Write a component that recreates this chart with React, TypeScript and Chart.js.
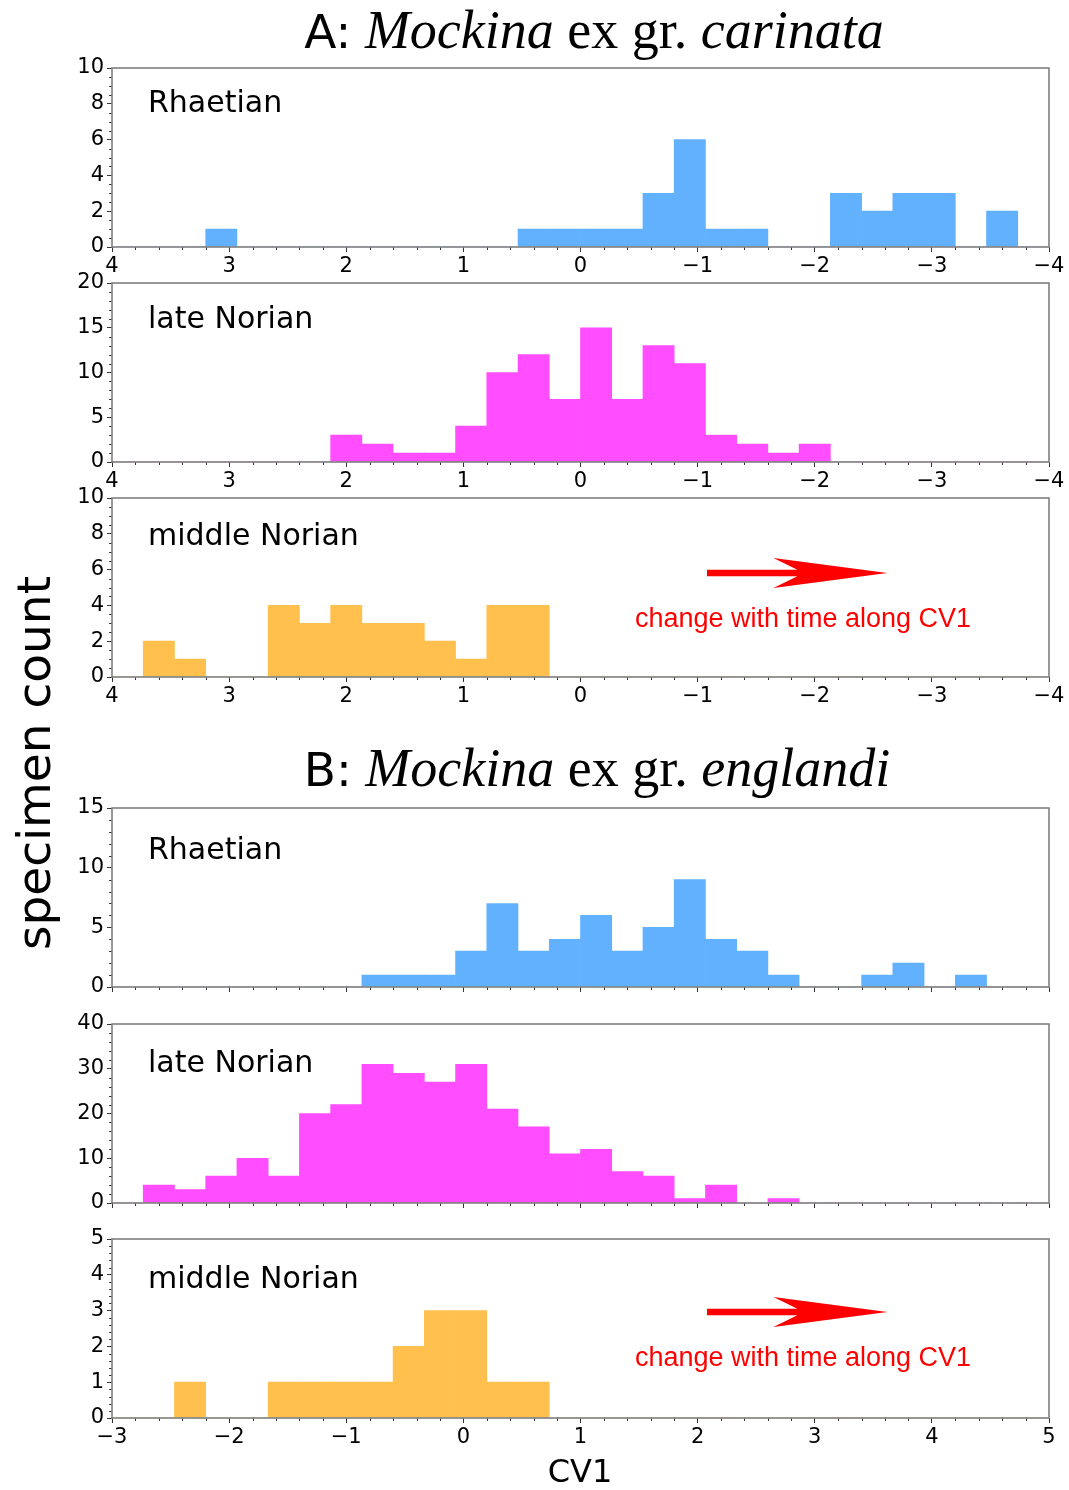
import React, { useEffect, useRef } from "react";
import { Chart, registerables } from "chart.js";

Chart.register(...registerables);

// Histogram layout: 30 equal bins spanning each CV1 range
const BIN_COUNT = 30;
const RANGE_CARINATA = [-4, 4];
const RANGE_ENGLANDI = [-3, 5];

// Specimen counts per bin, ordered from the lowest CV1 bin to the highest
const carinataRhaetian = [0, 2, 0, 3, 3, 2, 3, 0, 0, 1, 1, 6, 3, 1, 1, 1, 1, 0, 0, 0, 0, 0, 0, 0, 0, 0, 1, 0, 0, 0];
const carinataLateNorian = [0, 0, 0, 0, 0, 0, 0, 2, 1, 2, 3, 11, 13, 7, 15, 7, 12, 10, 4, 1, 1, 2, 3, 0, 0, 0, 0, 0, 0, 0];
const carinataMiddleNorian = [0, 0, 0, 0, 0, 0, 0, 0, 0, 0, 0, 0, 0, 0, 0, 0, 4, 4, 1, 2, 3, 3, 4, 3, 4, 0, 0, 1, 2, 0];

const englandiRhaetian = [0, 0, 0, 0, 0, 0, 0, 0, 1, 1, 1, 3, 7, 3, 4, 6, 3, 5, 9, 4, 3, 1, 0, 0, 1, 2, 0, 1, 0, 0];
const englandiLateNorian = [0, 4, 3, 6, 10, 6, 20, 22, 31, 29, 27, 31, 21, 17, 11, 12, 7, 6, 1, 4, 0, 1, 0, 0, 0, 0, 0, 0, 0, 0];
const englandiMiddleNorian = [0, 0, 1, 0, 0, 1, 1, 1, 1, 2, 3, 3, 1, 1, 0, 0, 0, 0, 0, 0, 0, 0, 0, 0, 0, 0, 0, 0, 0, 0];

// Axis limits and major tick steps of the count axes
const yMaxima = [10, 20, 10, 15, 40, 5];
const yMajorSteps = [2, 5, 2, 5, 10, 1];
const yMinorSteps = [0.5, 1, 0.5, 1, 2, 0.2];
const stageLabels = ["Rhaetian", "late Norian", "middle Norian", "Rhaetian", "late Norian", "middle Norian"];

// Direction-of-change annotation (CV1 / count coordinates)
const ARROW_TEXT = "change with time along CV1";
const carinataArrow = { tail: -1.08, tip: -2.62, y: 5.81, textX: -1.9, textY: 2.79 };
const englandiArrow = { tail: 2.08, tip: 3.62, y: 2.96, textX: 2.9, textY: 1.46 };

const BLUE = "#62b1ff";
const MAGENTA = "#ff4dff";
const ORANGE = "#ffc04d";

const W = 1069;
const PAD_TOP = 20;
const PLOT_H = 179;
const X_AXIS_H = 40;
const Y_AXIS_W = 112;
const PAD_RIGHT = 20;
const TICK_FONT = { family: "'DejaVu Sans', sans-serif", size: 21 };

type PanelCfg = {
  top: number;
  counts: number[];
  range: number[];
  reversed: boolean;
  yMax: number;
  yStep: number;
  yMinor: number;
  label: string;
  labelBaseline: number;
  color: string;
  showX: boolean;
  arrow?: { tail: number; tip: number; y: number; textX: number; textY: number };
};

const panels: PanelCfg[] = [
  { top: 68, counts: carinataRhaetian, range: RANGE_CARINATA, reversed: true, yMax: yMaxima[0], yStep: yMajorSteps[0], yMinor: yMinorSteps[0], label: stageLabels[0], labelBaseline: 44, color: BLUE, showX: true },
  { top: 283, counts: carinataLateNorian, range: RANGE_CARINATA, reversed: true, yMax: yMaxima[1], yStep: yMajorSteps[1], yMinor: yMinorSteps[1], label: stageLabels[1], labelBaseline: 45, color: MAGENTA, showX: true },
  { top: 498, counts: carinataMiddleNorian, range: RANGE_CARINATA, reversed: true, yMax: yMaxima[2], yStep: yMajorSteps[2], yMinor: yMinorSteps[2], label: stageLabels[2], labelBaseline: 47, color: ORANGE, showX: true, arrow: carinataArrow },
  { top: 808, counts: englandiRhaetian, range: RANGE_ENGLANDI, reversed: false, yMax: yMaxima[3], yStep: yMajorSteps[3], yMinor: yMinorSteps[3], label: stageLabels[3], labelBaseline: 51, color: BLUE, showX: false },
  { top: 1024, counts: englandiLateNorian, range: RANGE_ENGLANDI, reversed: false, yMax: yMaxima[4], yStep: yMajorSteps[4], yMinor: yMinorSteps[4], label: stageLabels[4], labelBaseline: 48, color: MAGENTA, showX: false },
  { top: 1239, counts: englandiMiddleNorian, range: RANGE_ENGLANDI, reversed: false, yMax: yMaxima[5], yStep: yMajorSteps[5], yMinor: yMinorSteps[5], label: stageLabels[5], labelBaseline: 49, color: ORANGE, showX: true, arrow: englandiArrow },
];

const formatTick = (v: number) => (v < 0 ? "\u2212" + Math.abs(v) : String(v));

// Frame, minor ticks, stage label and the red arrow annotation
function makeDecorPlugin(cfg: PanelCfg) {
  return {
    id: "panelDecor",
    afterDraw(chart: any) {
      const { ctx, chartArea } = chart;
      const xs = chart.scales.x;
      const ys = chart.scales.y;
      const { left, right, top, bottom } = chartArea;
      ctx.save();

      // minor ticks
      ctx.strokeStyle = "#333";
      ctx.lineWidth = 1;
      const [lo, hi] = cfg.range;
      const nx = Math.round((hi - lo) / 0.2);
      ctx.beginPath();
      for (let k = 0; k <= nx; k++) {
        if (k % 5 === 0) continue;
        const px = Math.round(xs.getPixelForValue(lo + k * 0.2)) + 0.5;
        ctx.moveTo(px, bottom);
        ctx.lineTo(px, bottom + 3);
      }
      const ny = Math.round(cfg.yMax / cfg.yMinor);
      const per = Math.round(cfg.yStep / cfg.yMinor);
      for (let k = 0; k <= ny; k++) {
        if (k % per === 0) continue;
        const py = Math.round(ys.getPixelForValue(k * cfg.yMinor)) + 0.5;
        ctx.moveTo(left - 3, py);
        ctx.lineTo(left, py);
      }
      ctx.stroke();

      // frame
      ctx.strokeStyle = "#7f7f7f";
      ctx.lineWidth = 1.6;
      ctx.strokeRect(left, top, right - left, bottom - top);

      // stage label
      ctx.fillStyle = "#000";
      ctx.font = "30px 'DejaVu Sans', sans-serif";
      ctx.textAlign = "left";
      ctx.textBaseline = "alphabetic";
      ctx.fillText(cfg.label, left + 36, top + cfg.labelBaseline);

      if (cfg.arrow) {
        const a = cfg.arrow;
        const x0 = xs.getPixelForValue(a.tail);
        const x1 = xs.getPixelForValue(a.tip);
        const y = ys.getPixelForValue(a.y);
        const headLen = 114;
        const notch = 90;
        const headHalf = 15;
        const shaftHalf = 3.3;
        ctx.fillStyle = "#ff0000";
        ctx.beginPath();
        ctx.moveTo(x0, y - shaftHalf);
        ctx.lineTo(x1 - notch, y - shaftHalf);
        ctx.lineTo(x1 - headLen, y - headHalf);
        ctx.lineTo(x1, y);
        ctx.lineTo(x1 - headLen, y + headHalf);
        ctx.lineTo(x1 - notch, y + shaftHalf);
        ctx.lineTo(x0, y + shaftHalf);
        ctx.closePath();
        ctx.fill();

        ctx.font = "27px 'Liberation Sans', Arial, sans-serif";
        ctx.textAlign = "center";
        ctx.fillText(ARROW_TEXT, xs.getPixelForValue(a.textX), ys.getPixelForValue(a.textY));
      }
      ctx.restore();
    },
  };
}

function Panel({ cfg }: { cfg: PanelCfg }) {
  const ref = useRef<HTMLCanvasElement>(null);
  const height = PAD_TOP + PLOT_H + X_AXIS_H;

  useEffect(() => {
    const [lo, hi] = cfg.range;
    const binW = (hi - lo) / BIN_COUNT;
    const points = cfg.counts.map((c, i) => ({ x: lo + (i + 0.5) * binW, y: c }));
    const chart = new Chart(ref.current as HTMLCanvasElement, {
      type: "bar",
      data: {
        datasets: [
          {
            data: points as any,
            backgroundColor: cfg.color,
            borderWidth: 0,
            barPercentage: 1,
            categoryPercentage: 1,
          },
        ],
      },
      options: {
        animation: false,
        responsive: false,
        maintainAspectRatio: false,
        events: [],
        layout: { padding: { top: PAD_TOP, right: PAD_RIGHT, left: 0, bottom: 0 } },
        plugins: {
          legend: { display: false },
          tooltip: { enabled: false },
          title: { display: false },
        },
        scales: {
          x: {
            type: "linear",
            min: lo,
            max: hi,
            reverse: cfg.reversed,
            offset: false,
            grid: { display: true, drawOnChartArea: false, drawTicks: true, tickLength: 5, tickColor: "#333", offset: false },
            border: { display: false },
            ticks: {
              display: cfg.showX,
              stepSize: 1,
              autoSkip: false,
              maxRotation: 0,
              padding: 2,
              color: "#000",
              font: TICK_FONT,
              callback: (v: any) => formatTick(Number(v)),
            },
            afterFit: (s: any) => {
              s.height = X_AXIS_H;
            },
          },
          y: {
            min: 0,
            max: cfg.yMax,
            grid: { display: true, drawOnChartArea: false, drawTicks: true, tickLength: 5, tickColor: "#333" },
            border: { display: false },
            ticks: {
              stepSize: cfg.yStep,
              padding: 3,
              color: "#000",
              font: TICK_FONT,
              callback: (v: any) => formatTick(Number(v)),
            },
            afterFit: (s: any) => {
              s.width = Y_AXIS_W;
            },
          },
        },
      } as any,
      plugins: [makeDecorPlugin(cfg)],
    });
    return () => chart.destroy();
  }, [cfg]);

  return (
    <canvas
      ref={ref}
      width={W}
      height={height}
      style={{ position: "absolute", left: 0, top: cfg.top - PAD_TOP, width: W, height }}
    />
  );
}

export default function App() {
  return (
    <div style={{ position: "absolute", left: 0, top: 0, width: W, height: 1490, background: "#fff", overflow: "hidden" }}>
      {panels.map((p, i) => (
        <Panel key={i} cfg={p} />
      ))}
      <svg
        width={W}
        height={1490}
        style={{ position: "absolute", left: 0, top: 0, pointerEvents: "none" }}
      >
        <text x={594} y={48} textAnchor="middle" fill="#000">
          <tspan fontFamily="'DejaVu Sans', sans-serif" fontSize={47}>A:</tspan>
          <tspan fontFamily="'Liberation Serif', serif" fontSize={54} fontStyle="italic"> Mockina</tspan>
          <tspan fontFamily="'Liberation Serif', serif" fontSize={54}> ex gr. </tspan>
          <tspan fontFamily="'Liberation Serif', serif" fontSize={54} fontStyle="italic">carinata</tspan>
        </text>
        <text x={597} y={786} textAnchor="middle" fill="#000">
          <tspan fontFamily="'DejaVu Sans', sans-serif" fontSize={47}>B:</tspan>
          <tspan fontFamily="'Liberation Serif', serif" fontSize={54} fontStyle="italic"> Mockina</tspan>
          <tspan fontFamily="'Liberation Serif', serif" fontSize={54}> ex gr. </tspan>
          <tspan fontFamily="'Liberation Serif', serif" fontSize={54} fontStyle="italic">englandi</tspan>
        </text>
        <text
          transform="translate(50,763) rotate(-90)"
          textAnchor="middle"
          fontFamily="'DejaVu Sans', sans-serif"
          fontSize={47}
          fill="#000"
        >
          specimen count
        </text>
        <text x={580} y={1482} textAnchor="middle" fontFamily="'DejaVu Sans', sans-serif" fontSize={32} fill="#000">
          CV1
        </text>
      </svg>
    </div>
  );
}
